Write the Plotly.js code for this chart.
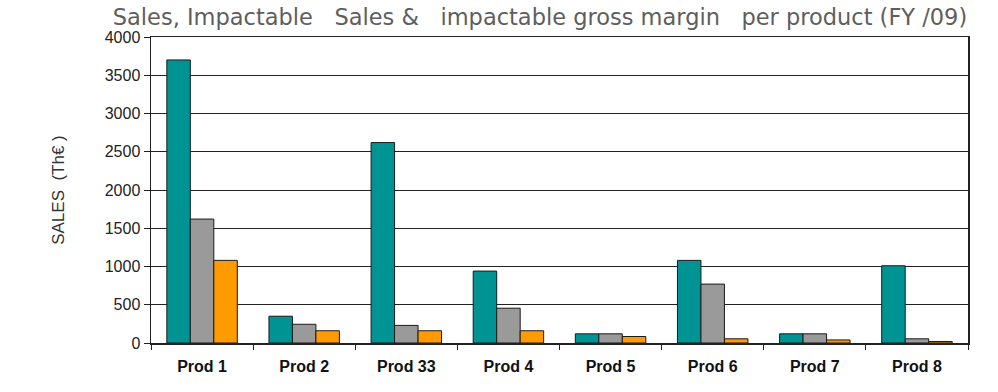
<!DOCTYPE html>
<html>
<head>
<meta charset="utf-8">
<script src="https://cdn.plot.ly/plotly-3.0.1.min.js"></script>
<style>html,body{margin:0;padding:0;background:#fff;}#chart{width:998px;height:392px;}</style>
</head>
<body>
<div id="chart"></div>
<script>
const categories = ["Prod 1", "Prod 2", "Prod 33", "Prod 4", "Prod 5", "Prod 6", "Prod 7", "Prod 8"];
const sales = [3700, 350, 2620, 940, 120, 1080, 120, 1010];
const impactableSales = [1620, 245, 230, 455, 120, 770, 120, 55];
const impactableGrossMargin = [1080, 160, 160, 160, 85, 55, 40, 20];
const yTicks = [0, 500, 1000, 1500, 2000, 2500, 3000, 3500, 4000];

const line = {color: '#1a1a1a', width: 1};
const traces = [
  {type: 'bar', name: 'Sales', x: categories, y: sales, marker: {color: '#009394', line: line}},
  {type: 'bar', name: 'Impactable Sales', x: categories, y: impactableSales, marker: {color: '#9a9a9a', line: line}},
  {type: 'bar', name: 'Impactable gross margin', x: categories, y: impactableGrossMargin, marker: {color: '#ff9a00', line: line}}
];
const G = '\u00A0\u00A0 ';
const layout = {
  width: 998, height: 392,
  margin: {l: 151, r: 30, t: 37, b: 49},
  paper_bgcolor: '#fff', plot_bgcolor: '#fff',
  showlegend: false,
  barmode: 'group', bargap: 0.31, bargroupgap: 0,
  title: {
    text: 'Sales, Impactable' + G + 'Sales &' + G + 'impactable gross margin' + G + 'per product (FY /09)',
    font: {family: 'DejaVu Sans', size: 22.5, color: '#5e5e5e'},
    x: 540 / 998, xanchor: 'center', xref: 'container', y: 0.957, yanchor: 'middle'
  },
  xaxis: {
    type: 'category', tickson: 'boundaries', ticks: 'outside', ticklen: 5, tickcolor: '#222',
    showline: true, linecolor: '#222', linewidth: 1.5, mirror: true,
    tickfont: {family: 'Liberation Sans, Arial', size: 16, color: '#111', weight: 'bold'},
    ticklabelstandoff: 8,
    showgrid: false
  },
  yaxis: {
    range: [0, 4000], tickvals: yTicks, ticks: 'outside', ticklen: 6, tickcolor: '#222',
    showline: true, linecolor: '#222', linewidth: 1.5, mirror: true,
    showgrid: true, gridcolor: '#222', gridwidth: 1, zeroline: false,
    tickfont: {family: 'Liberation Sans, Arial', size: 16, color: '#222'},
    title: {text: 'SALES\u00A0 (Th€\u00A0)', standoff: 36, font: {family: 'Liberation Sans, Arial', size: 17, color: '#333'}}
  }
};
Plotly.newPlot('chart', traces, layout, {displayModeBar: false, staticPlot: true});
</script>
</body>
</html>
